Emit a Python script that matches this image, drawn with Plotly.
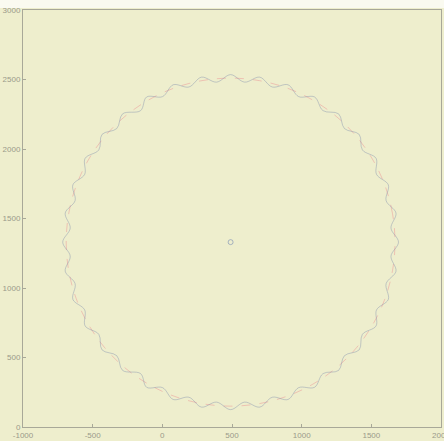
import plotly.graph_objects as go

# Wavy outer curve (peaks and valleys)
wave_x = [1695, 1641, 1677, 1606, 1622, 1537, 1534, 1436, 1413, 1307, 1265, 1153, 1093, 978, 902, 789, 699, 591,
          490, 389, 281, 191, 78, 2, -113, -156, -285, -327, -433, -456, -554, -557, -642, -626, -697, -661,
          -715, -661, -697, -626, -642, -557, -554, -456, -433, -327, -285, -156, -113, 2, 78, 191, 281, 389,
          490, 591, 699, 789, 902, 978, 1093, 1153, 1265, 1307, 1413, 1436, 1534, 1537, 1622, 1606, 1677, 1641,
          1695]
wave_y = [1330, 1431, 1539, 1629, 1742, 1818, 1933, 1993, 2105, 2147, 2253, 2276, 2374, 2377, 2462, 2446, 2517, 2481,
          2535, 2481, 2517, 2446, 2462, 2377, 2374, 2276, 2253, 2147, 2105, 1993, 1933, 1818, 1742, 1629, 1539, 1431,
          1330, 1229, 1121, 1031, 918, 842, 727, 667, 555, 513, 407, 384, 286, 283, 198, 214, 143, 179,
          125, 179, 143, 214, 198, 283, 286, 384, 407, 513, 555, 667, 727, 842, 918, 1031, 1121, 1229,
          1330]

# Dashed reference ring
ring_x = [1670, 1652, 1599, 1512, 1394, 1249, 1080, 894, 695, 490, 285, 86, -100, -269, -414, -532, -619, -672,
          -690, -672, -619, -532, -414, -269, -100, 86, 285, 490, 695, 894, 1080, 1249, 1394, 1512, 1599, 1652, 1670]
ring_y = [1330, 1535, 1734, 1920, 2089, 2234, 2352, 2439, 2492, 2510, 2492, 2439, 2352, 2234, 2089, 1920, 1734, 1535,
          1330, 1125, 926, 740, 571, 426, 308, 221, 168, 150, 168, 221, 308, 426, 571, 740, 926, 1125, 1330]

# Centre point
center_x = [490]
center_y = [1330]

x_ticks = [-1000, -500, 0, 500, 1000, 1500, 2000]
y_ticks = [0, 500, 1000, 1500, 2000, 2500, 3000]

bg = "rgb(238,238,205)"

fig = go.Figure()
fig.add_trace(go.Scatter(x=ring_x, y=ring_y, mode="lines",
                         line=dict(color="rgba(235,150,150,0.5)", width=1, dash="dash", shape="spline"),
                         hoverinfo="skip", showlegend=False))
fig.add_trace(go.Scatter(x=wave_x, y=wave_y, mode="lines",
                         line=dict(color="rgba(120,135,170,0.4)", width=1, shape="spline"),
                         hoverinfo="skip", showlegend=False))
fig.add_trace(go.Scatter(x=center_x, y=center_y, mode="markers",
                         marker=dict(symbol="circle-open", size=5, color="rgba(120,140,180,0.6)", line=dict(width=1)),
                         hoverinfo="skip", showlegend=False))

axis_common = dict(showgrid=False, zeroline=False, ticks="inside", ticklen=3, tickwidth=1, automargin=False,
                   tickcolor="#a8a898", showline=True, linecolor="#a8a898", linewidth=1, mirror=True,
                   ticklabeloverflow="allow",
                   tickfont=dict(family="Liberation Sans Narrow, Arial Narrow, sans-serif", size=8, color="#9a9a8a"))

fig.update_layout(
    template="none",
    width=444, height=441,
    margin=dict(l=23, r=3, t=10, b=14, pad=0),
    paper_bgcolor=bg, plot_bgcolor=bg,
    xaxis=dict(range=[-1000, 2000], tickvals=x_ticks, ticktext=[str(v) for v in x_ticks], **axis_common),
    yaxis=dict(range=[0, 3000], tickvals=y_ticks, ticktext=[str(v) for v in y_ticks], **axis_common),
    shapes=[dict(type="rect", xref="paper", yref="paper", x0=-0.06, x1=1.01, y0=1.005, y1=1.03,
                 fillcolor="rgb(250,250,240)", line=dict(width=0), layer="above")],
)

fig.write_html("out.html", config={"displayModeBar": False},
               post_script="document.body.style.margin='0';document.body.style.padding='0';document.body.style.overflow='hidden';")
